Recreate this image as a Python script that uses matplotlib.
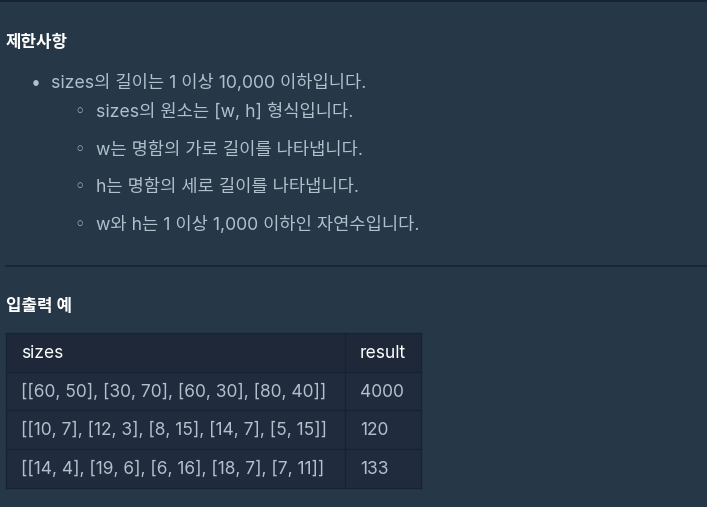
import matplotlib
matplotlib.use("Agg")
import matplotlib.pyplot as plt
from matplotlib.patches import Rectangle

plt.rcParams['font.family'] = ['Inter', 'Noto Sans CJK KR', 'DejaVu Sans']

# ======================
# 데이터
# ======================
title_limits = "제한사항"
limit_main = "sizes의 길이는 1 이상 10,000 이하입니다."
limit_subs = [
    "sizes의 원소는 [w, h] 형식입니다.",
    "w는 명함의 가로 길이를 나타냅니다.",
    "h는 명함의 세로 길이를 나타냅니다.",
    "w와 h는 1 이상 1,000 이하인 자연수입니다.",
]
title_examples = "입출력 예"
col_names = ["sizes", "result"]
sizes = [
    "[[60, 50], [30, 70], [60, 30], [80, 40]]",
    "[[10, 7], [12, 3], [8, 15], [14, 7], [5, 15]]",
    "[[14, 4], [19, 6], [6, 16], [18, 7], [7, 11]]",
]
results = [4000, 120, 133]

# ======================
# 색상
# ======================
bg = "#263747"
text_col = "#b2c0cc"
head_col = "#ffffff"
cell_bg = "#202b3d"
head_bg = "#1e2838"
line_col = "#172334"

W, H = 707, 507
fig = plt.figure(figsize=(W / 100, H / 100), dpi=100, facecolor=bg)
ax = fig.add_axes([0, 0, 1, 1])
ax.set_xlim(0, W)
ax.set_ylim(H, 0)
ax.axis("off")

fs = 12.7   # 본문
fs_t = 12.5  # 표
fs_h = 12.1  # 제목

# 상단 구분선
ax.plot([0, W], [1, 1], color=line_col, lw=1.5)

ax.text(6, 47, title_limits, color=head_col, fontsize=fs_h, fontweight="bold",
        va="baseline", ha="left")

ax.text(36, 88, "•", color=text_col, fontsize=fs, va="baseline", ha="center")
ax.text(51, 88, limit_main, color=text_col, fontsize=fs, va="baseline", ha="left")

sub_base = [117, 155, 192, 230]
for y, s in zip(sub_base, limit_subs):
    ax.text(80, y, "◦", color=text_col, fontsize=fs, va="baseline", ha="center",
            family="DejaVu Sans")
    ax.text(96, y, s, color=text_col, fontsize=fs, va="baseline", ha="left")

# 중간 구분선
ax.plot([6, W], [266, 266], color=line_col, lw=1.2)

ax.text(6, 311, title_examples, color=head_col, fontsize=fs_h, fontweight="bold",
        va="baseline", ha="left")

# ======================
# 표
# ======================
x0, x1, x2 = 6, 345, 421
row_edges = [333, 372, 410, 449, 488]
base_off = 25  # 행 위쪽에서 글자 기준선까지

ax.add_patch(Rectangle((x0, row_edges[0]), x2 - x0, row_edges[1] - row_edges[0],
                       facecolor=head_bg, edgecolor="none"))
ax.add_patch(Rectangle((x0, row_edges[1]), x2 - x0, row_edges[-1] - row_edges[1],
                       facecolor=cell_bg, edgecolor="none"))
for y in row_edges:
    ax.plot([x0, x2], [y, y], color=line_col, lw=1)
for x in [x0, x1, x2]:
    ax.plot([x, x], [row_edges[0], row_edges[-1]], color=line_col, lw=1)

ax.text(x0 + 15, row_edges[0] + base_off, col_names[0], color=head_col,
        fontsize=fs_t, va="baseline", ha="left")
ax.text(x1 + 15, row_edges[0] + base_off, col_names[1], color=head_col,
        fontsize=fs_t, va="baseline", ha="left")

for i, (s, r) in enumerate(zip(sizes, results)):
    yb = row_edges[i + 1] + base_off
    ax.text(x0 + 15, yb, s, color=text_col, fontsize=fs_t, va="baseline", ha="left")
    ax.text(x1 + 15, yb, str(r), color=text_col, fontsize=fs_t, va="baseline", ha="left")

fig.savefig("out.png", dpi=100, facecolor=bg)
